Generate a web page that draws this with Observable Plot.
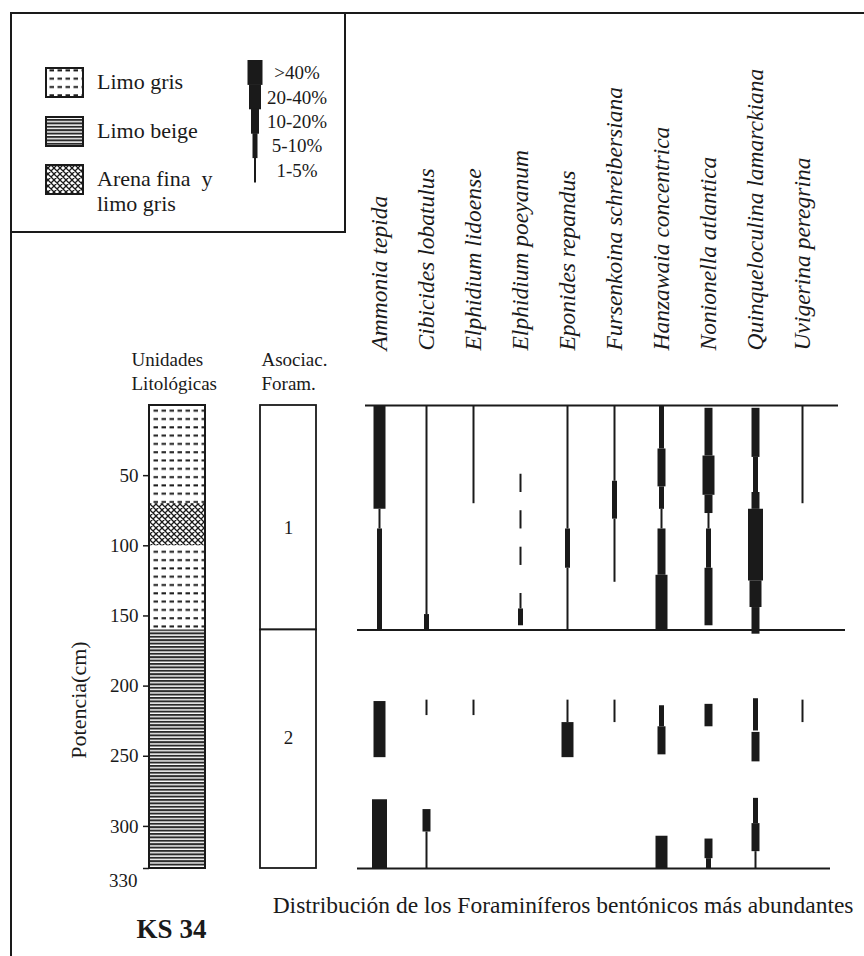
<!DOCTYPE html>
<html><head><meta charset="utf-8">
<script src="https://cdn.jsdelivr.net/npm/d3@7"></script>
<script src="https://cdn.jsdelivr.net/npm/@observablehq/plot@0.6"></script>
<style>
body{margin:0;background:#fff;}
#fig{position:relative;width:864px;height:956px;overflow:hidden;background:#fff;font-family:"Liberation Serif","Times New Roman",serif;color:#1a1a1a;}
#fig > svg{position:absolute;left:0;top:0;}
#fig svg text{font-family:"Liberation Serif","Times New Roman",serif;}
</style></head><body><div id="fig"></div>
<script>
// ---------- DATA ----------
const species = ["Ammonia tepida","Cibicides lobatulus","Elphidium lidoense","Elphidium poeyanum","Eponides repandus","Fursenkoina schreibersiana","Hanzawaia concentrica","Nonionella atlantica","Quinqueloculina lamarckiana","Uvigerina peregrina"];
// [top cm, bottom cm, abundance class 1..5]
const ammonia   = [[0,74,4],[74,88,1],[88,160,2],[211,251,4],[281,330,5]];
const cibicides = [[0,149,1],[149,160,2],[210,221,1],[288,304,3],[304,330,1]];
const elphLid   = [[0,70,1],[210,221,1]];
const elphPoe   = [[49,62,1],[75,88,1],[101,114,1],[134,145,1],[145,157,2]];
const eponides  = [[0,88,1],[88,116,2],[116,160,1],[210,226,1],[226,251,4]];
const fursenk   = [[0,54,1],[54,81,2],[81,126,1],[210,226,1]];
const hanzawaia = [[0,31,2],[31,58,3],[58,74,2],[74,88,1],[88,121,3],[121,160,4],[214,229,2],[229,249,3],[307,330,4]];
const nonionella= [[2,36,3],[36,64,4],[64,77,3],[77,88,1],[88,116,2],[116,157,3],[213,229,3],[309,323,3],[323,330,2]];
const quinq     = [[2,37,3],[37,62,2],[62,74,3],[74,125,5],[125,144,4],[144,163,3],[209,232,2],[233,254,3],[280,298,2],[298,318,3],[318,330,1]];
const uvigerina = [[0,70,1],[210,226,1]];
const speciesSegments = [ammonia,cibicides,elphLid,elphPoe,eponides,fursenk,hanzawaia,nonionella,quinq,uvigerina];

const classLabels = [">40%","20-40%","10-20%","5-10%","1-5%"];
const classValues = [5,4,3,2,1];

const lithoNames  = ["Limo gris","Arena fina y limo gris","Limo gris","Limo beige"];
const lithoTop    = [0,70,100,160];
const lithoBottom = [70,100,160,330];
const legendNames = ["Limo gris","Limo beige","Arena fina  y\nlimo gris"];
const legendKeys  = ["Limo gris","Limo beige","Arena fina y limo gris"];

const asocLabels = ["1","2"];
const asocTop    = [0,160];
const asocBottom = [160,330];
const asocMid    = [87,237];

const depthTicks = [50,100,150,200,250,300,330];
const sectionLines = [0,160,330];
const caption = "Distribución de los Foraminíferos bentónicos más abundantes";
const coreName = "KS 34";

// ---------- STYLE HELPERS ----------
const INK = "#1a1a1a";
const SERIF = "Liberation Serif";
const classWidth = c => [0,2,5,8,12,15][c];
const patternId = {"Limo gris":"pat-dash","Arena fina y limo gris":"pat-cross","Limo beige":"pat-lines"};

const fig = document.getElementById("fig");

// ---------- background svg: defs, frame, legend ----------
const bg = d3.create("svg").attr("width",864).attr("height",956);
const defs = bg.append("defs");
const p1 = defs.append("pattern").attr("id","pat-dash").attr("patternUnits","userSpaceOnUse").attr("width",8).attr("height",8.3);
p1.append("rect").attr("width",8).attr("height",8.3).attr("fill","#fff");
p1.append("rect").attr("x",1.5).attr("y",3).attr("width",4.5).attr("height",2).attr("fill",INK);
const p2 = defs.append("pattern").attr("id","pat-lines").attr("patternUnits","userSpaceOnUse").attr("width",8).attr("height",3.4);
p2.append("rect").attr("width",8).attr("height",3.4).attr("fill","#fff");
p2.append("rect").attr("y",0).attr("width",8).attr("height",2).attr("fill","#2a2a2a");
const p3 = defs.append("pattern").attr("id","pat-cross").attr("patternUnits","userSpaceOnUse").attr("width",6).attr("height",6);
p3.append("rect").attr("width",6).attr("height",6).attr("fill","#fff");
p3.append("path").attr("d","M0,0L6,6M6,0L0,6M-1,1L1,-1M5,7L7,5M-1,5L1,7M5,-1L7,1").attr("stroke",INK).attr("stroke-width",1.3);

// outer frame
bg.append("path").attr("d","M11,956V13H864").attr("fill","none").attr("stroke",INK).attr("stroke-width",2);
// legend box
bg.append("rect").attr("x",11).attr("y",13).attr("width",334).attr("height",219).attr("fill","none").attr("stroke",INK).attr("stroke-width",2);
const swY = [68,117,165];
legendKeys.forEach((k,i)=>{
  bg.append("rect").attr("x",46).attr("y",swY[i]).attr("width",37).attr("height",29)
    .attr("fill",`url(#${patternId[k]})`).attr("stroke",INK).attr("stroke-width",2);
  const lines = legendNames[i].split("\n");
  const t = bg.append("text").attr("x",97).attr("y",swY[i]+21).attr("font-size",22).attr("fill",INK).style("white-space","pre");
  lines.forEach((ln,j)=> t.append("tspan").attr("x",97).attr("dy", j===0?0:25).text(ln));
});
// abundance glyph legend
const glyphY = d3.scaleBand().domain(classLabels).range([60,182]);
classLabels.forEach((lab,i)=>{
  const w = classWidth(classValues[i]);
  bg.append("rect").attr("x",255-w/2).attr("y",glyphY(lab)).attr("width",w).attr("height",glyphY.bandwidth()+0.5).attr("fill",INK);
  bg.append("text").attr("x",297).attr("y",glyphY(lab)+glyphY.bandwidth()/2+7).attr("text-anchor","middle")
    .attr("font-size",19).attr("fill",INK).text(lab);
});
fig.appendChild(bg.node());

// ---------- lithology / association plot ----------
const lithoData = lithoNames.map((n,i)=>({name:n, top:lithoTop[i], bot:lithoBottom[i]}));
const asocData = asocLabels.map((l,i)=>({label:l, top:asocTop[i], bot:asocBottom[i], mid:asocMid[i]}));
const commonY = {domain:[0,330], reverse:true};
const txt = {fontFamily:SERIF, fill:INK};

const litho = Plot.plot({
  width:340, height:956, marginLeft:149, marginRight:23, marginTop:405, marginBottom:88,
  style:{background:"transparent", fontFamily:SERIF, fontSize:"19px", color:INK, overflow:"visible"},
  x:{type:"band", domain:["lito","asoc"], range:[149,317], paddingInner:0.495, paddingOuter:0, axis:null},
  y:{...commonY, axis:null},
  marks:[
    ...Object.keys(patternId).map(k => Plot.barY(lithoData.filter(d=>d.name===k), {x:()=>"lito", y1:"top", y2:"bot", fill:`url(#${patternId[k]})`})),
    Plot.barY([{top:0,bot:330}], {x:()=>"lito", y1:"top", y2:"bot", fill:"none", stroke:INK, strokeWidth:2}),
    Plot.barY(asocData, {x:()=>"asoc", y1:"top", y2:"bot", fill:"white", stroke:INK, strokeWidth:1.8}),
    Plot.text(asocData, {x:()=>"asoc", y:"mid", text:"label", fontSize:19, ...txt}),
    Plot.axisY({ticks:depthTicks, tickSize:6, tickPadding:5, tickFormat:d=> d===330 ? "" : String(d), label:null, stroke:INK, strokeWidth:1.5, fontSize:19, ...txt}),
    Plot.text(depthTicks.filter(d=>d===330), {y:d=>d, text:d=>String(d), frameAnchor:"left", dx:-12, dy:12, textAnchor:"end", fontSize:19, ...txt}),
    Plot.text(["Potencia(cm)"], {frameAnchor:"left", dx:-71, dy:63, rotate:-90, textAnchor:"middle", lineAnchor:"middle", fontSize:22, ...txt}),
    Plot.text(["Unidades\nLitológicas"], {x:()=>"lito", frameAnchor:"top", dy:-35, dx:-46, textAnchor:"start", lineAnchor:"middle", lineHeight:1.26, fontSize:19, ...txt}),
    Plot.text(["Asociac.\nForam."], {x:()=>"asoc", frameAnchor:"top", dy:-35, dx:-27, textAnchor:"start", lineAnchor:"middle", lineHeight:1.26, fontSize:19, ...txt}),
    Plot.text([coreName], {x:()=>"lito", frameAnchor:"bottom", dy:61, dx:-6, lineAnchor:"middle", fontSize:27, fontWeight:"bold", ...txt})
  ]
});
fig.appendChild(litho);

// ---------- species distribution plot ----------
const segs = species.flatMap((s,i)=> speciesSegments[i].map(([top,bot,cls])=>({sp:s, top, bot, cls})));
const main = Plot.plot({
  width:864, height:956, marginLeft:357, marginRight:19, marginTop:405, marginBottom:88,
  style:{background:"transparent", fontFamily:SERIF, fontSize:"19px", color:INK, overflow:"visible"},
  x:{type:"point", domain:species, range:[379,802], padding:0, axis:null},
  y:{...commonY, axis:null},
  marks:[
    Plot.ruleY(sectionLines.filter(d=>d===0), {stroke:INK, strokeWidth:2, insetLeft:8, insetRight:7}),
    Plot.ruleY(sectionLines.filter(d=>d===160), {stroke:INK, strokeWidth:2}),
    Plot.ruleY(sectionLines.filter(d=>d===330), {stroke:INK, strokeWidth:2, insetRight:15}),
    Plot.ruleX(segs, {x:"sp", y1:"top", y2:"bot", strokeWidth:d=>classWidth(d.cls), stroke:INK}),
    Plot.text(species, {x:d=>d, text:d=>d, frameAnchor:"top", dy:-55, rotate:-90, textAnchor:"start", lineAnchor:"middle", fontStyle:"italic", fontSize:23.5, ...txt}),
    Plot.text([caption], {frameAnchor:"bottom-right", dx:8, dy:37, textAnchor:"end", lineAnchor:"middle", fontSize:23.5, ...txt})
  ]
});
fig.appendChild(main);
</script></body></html>
